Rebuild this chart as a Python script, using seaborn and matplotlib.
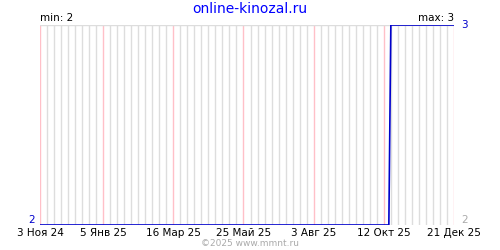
import matplotlib
matplotlib.use("Agg")
import matplotlib.pyplot as plt
import matplotlib.dates as mdates
import seaborn as sns
import pandas as pd
import numpy as np

# data
dates = ["2024-11-03", "2025-10-17", "2025-10-19", "2025-12-21"]
values = [2, 2, 3, 3]
tick_dates = ["2024-11-03", "2025-01-05", "2025-03-16", "2025-05-25", "2025-08-03", "2025-10-12", "2025-12-21"]
tick_labels = ["3 Ноя 24", "5 Янв 25", "16 Мар 25", "25 Май 25", "3 Авг 25", "12 Окт 25", "21 Дек 25"]
title = "online-kinozal.ru"
footer = "©2025 www.mmnt.ru"

df = pd.DataFrame({"date": pd.to_datetime(dates), "value": values})

sns.set_theme(style="white")
plt.rcParams["font.family"] = ["DejaVu Sans"]

fig = plt.figure(figsize=(5, 2.5), dpi=100)
ax = fig.add_axes([0.08, 0.1, 0.828, 0.8])

start = pd.Timestamp(tick_dates[0])
end = pd.Timestamp(tick_dates[-1])
ymin, ymax = min(values), max(values)

# weekly grid
weeks = pd.date_range(start, end, freq="7D")
red_set = set(pd.to_datetime(tick_dates))
for w in weeks:
    col = "#ffc0c8" if w in red_set else "#dddddd"
    ax.axvline(w, color=col, lw=1, zorder=1)
ax.axhline(ymax, color="#dddddd", lw=1, zorder=1)

sns.lineplot(data=df, x="date", y="value", ax=ax, color="#0000cc", lw=1.2, zorder=3)

ax.set_xlim(start, end)
ax.set_ylim(ymin, ymax)
for s in ax.spines.values():
    s.set_visible(False)

ax.set_xticks(pd.to_datetime(tick_dates))
ax.set_xticklabels(tick_labels, fontsize=7.5, color="black")
ax.tick_params(axis="x", length=0, pad=2)
ax.set_yticks([])
ax.set_xlabel("")
ax.set_ylabel("")

# value labels
ax.text(-0.012, ymin, str(ymin), transform=ax.get_yaxis_transform(), color="#0000cc",
        fontsize=7.5, ha="right", va="bottom")
ax.text(1.018, ymax, str(ymax), transform=ax.get_yaxis_transform(), color="#0000cc",
        fontsize=7.5, ha="left", va="center")
ax.text(1.018, ymin, str(ymin), transform=ax.get_yaxis_transform(), color="#aaaaaa",
        fontsize=7.5, ha="left", va="bottom")
ax.text(0.0, 1.01, f"min: {ymin}", transform=ax.transAxes, color="black",
        fontsize=7.5, ha="left", va="bottom")
ax.text(1.0, 1.01, f"max: {ymax}", transform=ax.transAxes, color="black",
        fontsize=7.5, ha="right", va="bottom")

fig.text(0.5, 0.965, title, color="#0000ff", fontsize=10, ha="center", va="center")
fig.text(0.5, 0.006, footer, color="#aaaaaa", fontsize=6.5, ha="center", va="bottom")

fig.savefig("out.png", dpi=100, facecolor="white")
